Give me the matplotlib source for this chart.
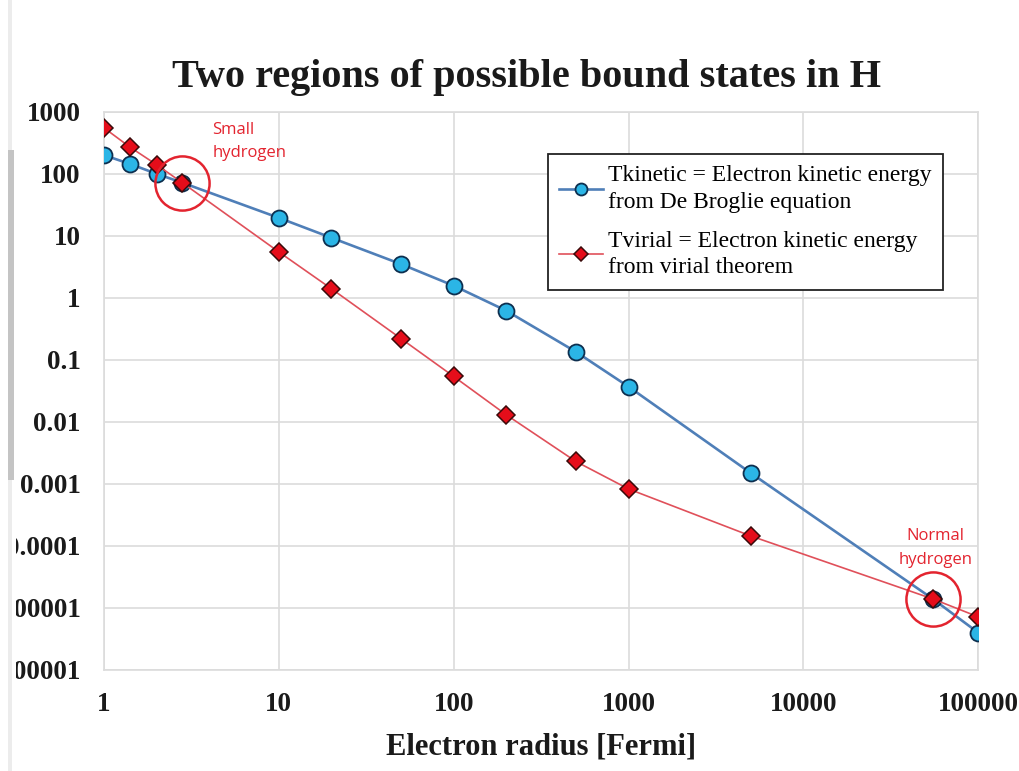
import matplotlib
matplotlib.use("Agg")
import matplotlib.pyplot as plt
from matplotlib.patches import Rectangle

# electron radius in Fermi
radius = [1, 1.4, 2, 2.8, 10, 20, 50, 100, 200, 500, 1000, 5000, 55000, 100000]
# kinetic energy from the De Broglie relation
t_kinetic = [200, 145, 100, 72, 19.5, 9.3, 3.5, 1.57, 0.62, 0.135, 0.037, 0.0015, 1.4e-5, 4.0e-6]
# kinetic energy from the virial theorem
t_virial = [550, 272, 140, 72, 5.5, 1.4, 0.22, 0.054, 0.013, 0.0023, 0.00083, 0.000145, 1.4e-5, 7.2e-6]

x_ticks = [1, 10, 100, 1000, 10000, 100000]
x_ticklabels = ["1", "10", "100", "1000", "10000", "100000"]
y_ticks = [1e-6, 1e-5, 1e-4, 1e-3, 1e-2, 0.1, 1, 10, 100, 1000]
y_ticklabels = ["0.000001", "0.00001", "0.0001", "0.001", "0.01", "0.1", "1", "10", "100", "1000"]

small_idx = 3    # small hydrogen
normal_idx = 12  # normal hydrogen

serif = "Liberation Serif"
red_txt = "#e3242f"

fig = plt.figure(figsize=(10.2, 7.71), dpi=100)
fig.patch.set_facecolor("white")

# slide margin on the left, with its grey strip
fig.add_artist(Rectangle((0, 0), 16 / 1020, 1, transform=fig.transFigure,
                         color="white", lw=0, zorder=5))
fig.add_artist(Rectangle((8 / 1020, 0), 4 / 1020, 1, transform=fig.transFigure,
                         color="#ececec", lw=0, zorder=6))
fig.add_artist(Rectangle((8 / 1020, 1 - 480 / 771), 6 / 1020, 330 / 771,
                         transform=fig.transFigure, color="#c4c4c4", lw=0, zorder=7))

ax = fig.add_axes([0.102, 0.131, 0.857, 0.724])
ax.set_xscale("log")
ax.set_yscale("log")
ax.set_xlim(1, 100000)
ax.set_ylim(1e-6, 1000)

ax.grid(True, which="major", color="#dcdcdc", lw=1.2)
ax.minorticks_off()
for s in ax.spines.values():
    s.set_color("#dcdcdc")
    s.set_linewidth(1.2)

ax.plot(radius, t_kinetic, color="#4f7fb8", lw=1.9, marker="o", markersize=11.5,
        markerfacecolor="#2bb5e6", markeredgecolor="#0d2f4f", markeredgewidth=1.3,
        label="Tkinetic = Electron kinetic energy\nfrom De Broglie equation", zorder=3)
ax.plot(radius, t_virial, color="#e0505a", lw=1.2, marker="D", markersize=9.5,
        markerfacecolor="#e50d1a", markeredgecolor="#3a0a0a", markeredgewidth=1.1,
        label="Tvirial = Electron kinetic energy\nfrom virial theorem", zorder=4)

# circles around the two bound states
for i in (small_idx, normal_idx):
    ax.plot(radius[i], t_virial[i], marker="o", markersize=39, markerfacecolor="none",
            markeredgecolor=red_txt, markeredgewidth=1.8, zorder=5)

ax.annotate("Small\nhydrogen", (radius[small_idx], t_virial[small_idx]),
            xytext=(30, 41), textcoords="offset pixels", ha="left", va="center",
            color=red_txt, fontsize=12, family="Open Sans", linespacing=1.6)
ax.annotate("Normal\nhydrogen", (radius[normal_idx], t_virial[normal_idx]),
            xytext=(3, 51), textcoords="offset pixels", ha="center", va="center",
            color=red_txt, fontsize=12, family="Open Sans", linespacing=1.6)

ax.set_xticks(x_ticks)
ax.set_xticklabels(x_ticklabels)
ax.set_yticks(y_ticks)
ax.set_yticklabels(y_ticklabels)
ax.tick_params(axis="both", length=0, labelsize=19.5)
ax.tick_params(axis="x", pad=16)
ax.tick_params(axis="y", pad=17)
for lab in ax.get_xticklabels() + ax.get_yticklabels():
    lab.set_family(serif)
    lab.set_fontweight("bold")
    lab.set_color("#1a1a1a")

ax.set_xlabel("Electron radius [Fermi]", family=serif, fontweight="bold",
              fontsize=22, color="#1a1a1a", labelpad=11)

leg = ax.legend(loc="upper right", bbox_to_anchor=(0.96, 0.925),
                prop={"family": serif, "size": 17}, markerscale=0.75,
                frameon=True, fancybox=False, edgecolor="#222222", framealpha=1,
                handlelength=1.85, handletextpad=0.2, borderpad=0.5, labelspacing=0.75,
                borderaxespad=0)
leg.get_frame().set_linewidth(1.3)
for t in leg.get_texts():
    t.set_linespacing(1.35)

fig.text(0.516, 0.899, "Two regions of possible bound states in H", ha="center", va="center",
         family=serif, fontweight="bold", fontsize=29, color="#1a1a1a")

fig.savefig("out.png", dpi=100, facecolor="white")
